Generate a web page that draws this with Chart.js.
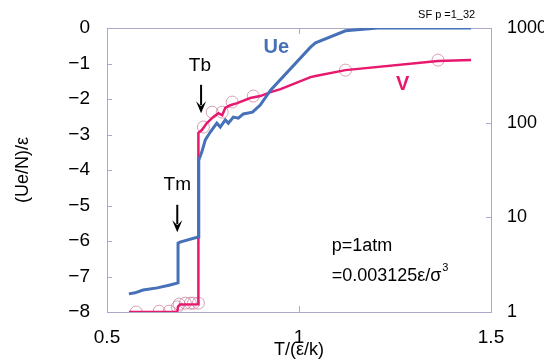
<!DOCTYPE html>
<html>
<head>
<meta charset="utf-8">
<script src="https://cdn.jsdelivr.net/npm/chart.js@4.4.0/dist/chart.umd.min.js"></script>
<style>
  html, body { margin: 0; padding: 0; background: #fff; }
  #wrap { width: 544px; height: 361px; }
</style>
</head>
<body>
<div id="wrap"><canvas id="c" width="544" height="361"></canvas></div>
<script>
// Ue/N per epsilon (left axis)
const ueT   = [0.557, 0.573, 0.594, 0.631, 0.664, 0.685, 0.685, 0.690, 0.737, 0.739, 0.747, 0.756, 0.769, 0.786, 0.795, 0.808, 0.816, 0.829, 0.842, 0.855, 0.879, 0.899, 0.926, 1.030, 1.043, 1.121, 1.205, 1.448];
const ueVal = [-7.49, -7.46, -7.38, -7.32, -7.24, -7.18, -6.06, -6.03, -5.89, -3.72, -3.49, -3.15, -2.93, -2.68, -2.79, -2.59, -2.68, -2.51, -2.54, -2.42, -2.37, -2.17, -1.75, -0.54, -0.42, -0.08, 0, 0];

// V (right axis, log)
const vT   = [0.557, 0.683, 0.685, 0.690, 0.737, 0.738, 0.747, 0.760, 0.777, 0.790, 0.800, 0.808, 0.821, 0.839, 0.873, 0.899, 0.926, 0.952, 1.030, 1.043, 1.121, 1.362, 1.448];
const vVal = [1.0, 1.0, 1.14, 1.2, 1.21, 78, 83.5, 99, 115, 126, 120, 143, 153, 161, 182, 191, 210, 226, 303, 311, 359, 447, 458];

// open circle samples on V
const ptT   = [0.576, 0.636, 0.662, 0.683, 0.688, 0.704, 0.717, 0.725, 0.738, 0.751, 0.774, 0.800, 0.826, 0.881, 1.121, 1.362];
const ptVal = [1.0, 1.02, 1.02, 1.13, 1.21, 1.24, 1.24, 1.24, 1.24, 90, 129, 129, 165, 191, 359, 458];

const leftTicks  = [0, -1, -2, -3, -4, -5, -6, -7, -8];
const rightTicks = [1, 10, 100, 1000];
const xTicks     = [0.5, 1, 1.5];

const FONT = "'Liberation Sans', Arial, sans-serif";
const BLUE = '#4670b8';
const RED  = '#e8186e';

const toXY = (xs, ys) => xs.map((x, i) => ({ x: x, y: ys[i] }));

const decor = {
    id: 'decor',
    beforeDatasetsDraw(chart) {
        const { ctx, chartArea: a, scales } = chart;
        ctx.save();
        ctx.strokeStyle = '#a9a9c9';
        ctx.lineWidth = 1;
        ctx.strokeRect(a.left + 0.5, a.top + 0.5, a.right - a.left, a.bottom - a.top);
        ctx.beginPath();
        leftTicks.forEach(v => {
            const y = Math.round(scales.y.getPixelForValue(v)) + 0.5;
            ctx.moveTo(a.left, y); ctx.lineTo(a.left + 5, y);
        });
        rightTicks.forEach(v => {
            const y = Math.round(scales.y2.getPixelForValue(v)) + 0.5;
            ctx.moveTo(a.right, y); ctx.lineTo(a.right - 5, y);
        });
        xTicks.forEach(v => {
            const x = Math.round(scales.x.getPixelForValue(v)) + 0.5;
            ctx.moveTo(x, a.bottom); ctx.lineTo(x, a.bottom - 6);
            ctx.moveTo(x, a.top); ctx.lineTo(x, a.top + 6);
        });
        ctx.stroke();
        ctx.restore();
    },
    afterDatasetsDraw(chart) {
        const { ctx, scales } = chart;
        const px = v => scales.x.getPixelForValue(v);
        const py = v => scales.y.getPixelForValue(v);
        ctx.save();

        function arrow(x, y1, y2) {
            ctx.strokeStyle = '#000';
            ctx.fillStyle = '#000';
            ctx.lineWidth = 2;
            ctx.beginPath();
            ctx.moveTo(x, y1); ctx.lineTo(x, y2 - 8);
            ctx.stroke();
            ctx.beginPath();
            ctx.moveTo(x - 5, y2 - 12);
            ctx.lineTo(x, y2);
            ctx.lineTo(x + 5, y2 - 12);
            ctx.lineTo(x, y2 - 7);
            ctx.closePath();
            ctx.fill();
        }

        ctx.textBaseline = 'middle';
        ctx.textAlign = 'center';
        ctx.fillStyle = '#000';
        ctx.font = '19px ' + FONT;
        ctx.fillText('Tb', px(0.742), py(-1.07));
        arrow(px(0.745), py(-1.6), py(-2.4));
        ctx.fillText('Tm', px(0.683), py(-4.42));
        arrow(px(0.683), py(-4.98), py(-5.75));

        ctx.font = 'bold 20px ' + FONT;
        ctx.fillStyle = BLUE;
        ctx.fillText('Ue', px(0.941), py(-0.55));
        ctx.fillStyle = RED;
        ctx.fillText('V', px(1.27), py(-1.6));

        ctx.fillStyle = '#000';
        ctx.textAlign = 'left';
        ctx.font = '18px ' + FONT;
        ctx.fillText('p=1atm', px(1.085), py(-6.14));
        ctx.fillText('=0.003125\u03b5/\u03c3', px(1.085), py(-6.98));
        const w = ctx.measureText('=0.003125\u03b5/\u03c3').width;
        ctx.font = '11px ' + FONT;
        ctx.fillText('3', px(1.085) + w + 1, py(-6.98) - 8);

        ctx.font = '11px ' + FONT;
        ctx.fillText('SF p =1_32', px(1.31), py(0.37));
        ctx.restore();
    }
};

new Chart(document.getElementById('c'), {
    type: 'scatter',
    data: {
        datasets: [
            {
                label: 'Ue',
                data: toXY(ueT, ueVal),
                yAxisID: 'y',
                showLine: true,
                borderColor: BLUE,
                borderWidth: 3,
                pointRadius: 0,
                tension: 0,
            },
            {
                label: 'V',
                data: toXY(vT, vVal),
                yAxisID: 'y2',
                showLine: true,
                borderColor: RED,
                borderWidth: 2.5,
                pointRadius: 0,
                tension: 0,
            },
            {
                label: 'V samples',
                data: toXY(ptT, ptVal),
                yAxisID: 'y2',
                showLine: false,
                pointRadius: 6,
                pointBorderWidth: 1,
                pointBorderColor: 'rgba(200,120,150,0.7)',
                pointBackgroundColor: 'rgba(0,0,0,0)',
            },
        ]
    },
    options: {
        responsive: false,
        animation: false,
        layout: { padding: { top: 28, right: 0, left: 0, bottom: 0 } },
        plugins: { legend: { display: false }, tooltip: { enabled: false } },
        scales: {
            x: {
                type: 'linear',
                min: 0.5, max: 1.5,
                afterFit: s => { s.height = 49; },
                afterBuildTicks: s => { s.ticks = xTicks.map(v => ({ value: v })); },
                grid: { display: false },
                border: { display: false },
                ticks: {
                    color: '#000', padding: 6,
                    font: { family: FONT, size: 19 },
                    maxRotation: 0,
                    callback: v => String(v),
                },
                title: {
                    display: true, text: 'T/(\u03b5/k)', color: '#000',
                    font: { family: FONT, size: 18 }, padding: { top: 0, bottom: 0 },
                },
            },
            y: {
                type: 'linear', position: 'left',
                min: -8, max: 0,
                afterFit: s => { s.width = 107; },
                afterBuildTicks: s => { s.ticks = leftTicks.map(v => ({ value: v })); },
                grid: { display: false },
                border: { display: false },
                ticks: {
                    color: '#000', padding: 9,
                    font: { family: FONT, size: 19 },
                    callback: v => v < 0 ? '\u2212' + Math.abs(v) : String(v),
                },
                title: {
                    display: true, text: '(Ue/N)/\u03b5', color: '#000',
                    font: { family: FONT, size: 18 }, padding: { top: 12, bottom: 0 },
                },
            },
            y2: {
                type: 'logarithmic', position: 'right',
                min: 1, max: 1000,
                afterFit: s => { s.width = 53; },
                afterBuildTicks: s => { s.ticks = rightTicks.map(v => ({ value: v })); },
                grid: { display: false },
                border: { display: false },
                ticks: {
                    color: '#000', padding: 8,
                    font: { family: FONT, size: 18 },
                    callback: v => String(v),
                },
            },
        }
    },
    plugins: [decor]
});
</script>
</body>
</html>
